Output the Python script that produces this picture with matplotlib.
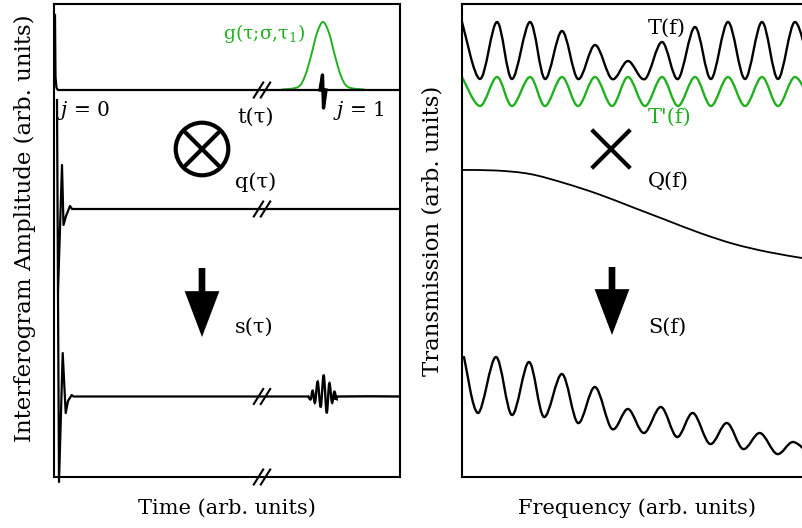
import numpy as np
import matplotlib
matplotlib.use('Agg')
import matplotlib.pyplot as plt
from matplotlib.path import Path
from matplotlib.patches import PathPatch, Circle, FancyArrowPatch

plt.rcParams['font.family'] = 'DejaVu Serif'
plt.rcParams['mathtext.fontset'] = 'dejavuserif'

GREEN = '#20b020'

# ---- left panel: interferogram traces (arb. units) ----
t_x = [1, 1.5, 2.5, 4, 266, 268.5, 269.5, 272, 346]
t_y = [462, 400, 389, 387, 387, 402, 369, 387, 387]

g_x = [228, 244, 251, 257, 263, 269, 275, 281, 287, 294, 310]
g_y = [387.5, 390, 401, 421, 444, 455, 444, 421, 401, 390, 387.5]

q_x = [3, 4, 8, 9.5, 12, 16, 18, 346]
q_y = [377, 185, 312, 252, 261, 271, 268, 268]

# s(tau): zero-delay burst, then the j = 1 echo
s0_x = [4, 5, 8.7, 11.7, 14, 17.7, 19.5, 254.3]
s0_y = [184, -5, 124, 64, 76, 82, 80.5, 80.5]
s1_x = [254.3, 256.7, 258.7, 261, 263.7, 266.7, 269.7, 272.7, 275.3, 278, 280.3, 282.7, 285.3, 346]
s1_y = [80.5, 77.7, 86.3, 74.3, 95.3, 70.3, 101.5, 64.5, 93.7, 74.3, 85.3, 78, 80.5, 80.5]

break_x = 208
break_levels = [387, 268, 80.5, 0]

# ---- right panel: spectra (arb. units) ----
T_x = [0, 18, 35, 50, 68, 83, 100, 116, 133, 150, 166, 183, 200, 216, 233, 249, 266, 283, 300, 316, 333, 350]
T_y = [455, 398, 455, 398, 455, 398, 446, 398, 432, 398, 416, 398, 435, 398, 450, 398, 455, 398, 455, 398, 455, 398]
Tp_y = [400, 371, 400, 371, 400, 371, 400, 371, 400, 371, 400, 371, 400, 371, 400, 371, 400, 371, 400, 371, 400, 371]

Q_x = [0, 34, 68, 102, 136, 170, 204, 238, 272, 306, 340]
Q_y = [307, 306.5, 303, 294, 283, 270, 257, 244, 233, 225, 219]

S_x = [2, 16, 34, 50, 67, 82, 100, 116, 133, 150, 166, 182, 199, 215, 231, 248, 265, 281, 298, 315, 331, 348]
S_y = [120, 64, 120, 62, 115, 60, 103, 54, 90, 48, 68, 44, 70, 40, 64, 33, 54, 28, 44, 23, 35, 22]


def smooth(ax, xs, ys, **kw):
    # catmull-rom curve through the read points, drawn as a bezier path
    p = np.column_stack([xs, ys]).astype(float)
    n = len(p)
    verts = [p[0]]
    codes = [Path.MOVETO]
    for i in range(n - 1):
        p0 = p[i - 1] if i > 0 else p[i]
        p3 = p[i + 2] if i + 2 < n else p[i + 1]
        verts += [p[i] + (p[i + 1] - p0) / 6, p[i + 1] - (p3 - p[i]) / 6, p[i + 1]]
        codes += [Path.CURVE4] * 3
    ax.add_patch(PathPatch(Path(verts, codes), fill=False, capstyle='round', **kw))


fig = plt.figure(figsize=(8.02, 5.28), dpi=100)
W, H = 802, 528
axL = fig.add_axes([54 / W, 51 / H, 346 / W, 473.5 / H])
axR = fig.add_axes([462 / W, 51 / H, 340 / W, 473.5 / H])

for ax in (axL, axR):
    ax.set_xticks([])
    ax.set_yticks([])
    for sp in ax.spines.values():
        sp.set_linewidth(1.5)
axR.spines['right'].set_visible(False)

# left
axL.plot(t_x, t_y, color='black', lw=1.6)
axL.plot(t_x[4:8], t_y[4:8], color='black', lw=2.4)
smooth(axL, g_x, g_y, color=GREEN, lw=1.4)
axL.plot(q_x, q_y, color='black', lw=1.6)
axL.plot(s0_x, s0_y, color='black', lw=1.6, clip_on=False)
smooth(axL, s1_x, s1_y, color='black', lw=1.7)
for lev in break_levels:
    for dx in (-3.5, 3.5):
        axL.plot([break_x + dx - 4.7, break_x + dx + 4.7], [lev - 7.5, lev + 7.5],
                 color='black', lw=1.5, clip_on=False)
axL.set_xlim(0, 346)
axL.set_ylim(0, 473.5)

axL.text(169, 444, 'g(τ;σ,τ$_1$)', color=GREEN, fontsize=13.5, va='center')
axL.text(3, 367, '$j$ = 0', fontsize=14.5, va='center')
axL.text(279, 367, '$j$ = 1', fontsize=14.5, va='center')
axL.text(183, 360, 't(τ)', fontsize=15, va='center')
axL.text(181, 295, 'q(τ)', fontsize=15, va='center')
axL.text(181, 150, 's(τ)', fontsize=15, va='center')

axL.add_patch(Circle((148, 328), 26.3, fill=False, lw=3, color='black'))
for a, b in ((-18.6, 18.6), (18.6, -18.6)):
    axL.plot([148 + a, 148 + b], [328 - 18.6, 328 + 18.6], color='black', lw=3,
             solid_capstyle='butt')
axL.add_patch(FancyArrowPatch((148, 209), (148, 140),
                              arrowstyle='simple,head_length=3.3,head_width=2.5,tail_width=0.48',
                              mutation_scale=10, color='black', lw=0, shrinkA=0, shrinkB=0))

axL.set_xlabel('Time (arb. units)', fontsize=15, va='center')
axL.xaxis.set_label_coords(0.5, -31 / 473.5)
axL.set_ylabel('Interferogram Amplitude (arb. units)', fontsize=16.5, va='center')
axL.yaxis.set_label_coords(-29 / 346, 0.525)

# right
smooth(axR, T_x, T_y, color='black', lw=1.7)
smooth(axR, T_x, Tp_y, color=GREEN, lw=1.7)
smooth(axR, Q_x, Q_y, color='black', lw=1.3)
smooth(axR, S_x, S_y, color='black', lw=1.7)
axR.set_xlim(0, 340)
axR.set_ylim(0, 473.5)

axR.text(186, 449, 'T(f)', fontsize=15, va='center')
axR.text(186, 360, "T'(f)", fontsize=15, va='center', color=GREEN)
axR.text(186, 296, 'Q(f)', fontsize=15, va='center')
axR.text(186, 150, 'S(f)', fontsize=15, va='center')

for a, b in ((-19.3, 19.3), (19.3, -19.3)):
    axR.plot([149 + a, 149 + b], [328 - 19.3, 328 + 19.3], color='black', lw=3,
             solid_capstyle='butt')
axR.add_patch(FancyArrowPatch((150, 210), (150, 142),
                              arrowstyle='simple,head_length=3.3,head_width=2.5,tail_width=0.48',
                              mutation_scale=10, color='black', lw=0, shrinkA=0, shrinkB=0))

axR.set_xlabel('Frequency (arb. units)', fontsize=15, va='center')
axR.xaxis.set_label_coords(0.5 + 5.5 / 340, -31 / 473.5)
axR.set_ylabel('Transmission (arb. units)', fontsize=16.5, va='center')
axR.yaxis.set_label_coords(-30 / 340, 0.52)

fig.savefig('out.png', dpi=100)
